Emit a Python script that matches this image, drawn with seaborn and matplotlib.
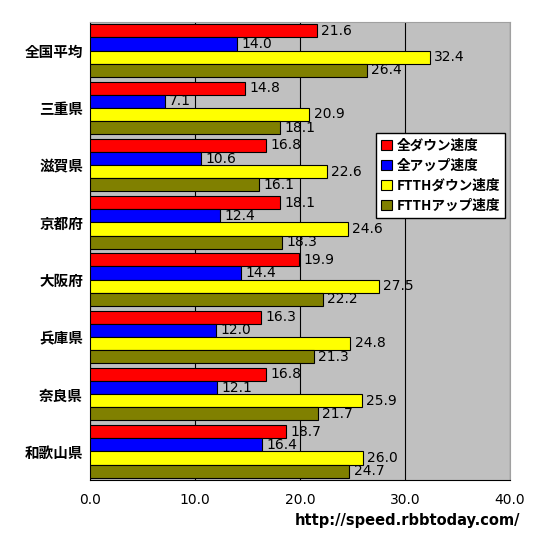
import matplotlib
matplotlib.use("Agg")
import matplotlib.pyplot as plt
import seaborn as sns
import pandas as pd

# --- data ---
prefectures = ["全国平均", "三重県", "滋賀県", "京都府", "大阪府", "兵庫県", "奈良県", "和歌山県"]
series = ["全ダウン速度", "全アップ速度", "FTTHダウン速度", "FTTHアップ速度"]
all_down = [21.6, 14.8, 16.8, 18.1, 19.9, 16.3, 16.8, 18.7]
all_up = [14.0, 7.1, 10.6, 12.4, 14.4, 12.0, 12.1, 16.4]
ftth_down = [32.4, 20.9, 22.6, 24.6, 27.5, 24.8, 25.9, 26.0]
ftth_up = [26.4, 18.1, 16.1, 18.3, 22.2, 21.3, 21.7, 24.7]
colors = ["#FF0000", "#0000FF", "#FFFF00", "#808000"]

rows = []
for name, vals in zip(series, [all_down, all_up, ftth_down, ftth_up]):
    for pref, v in zip(prefectures, vals):
        rows.append({"pref": pref, "series": name, "speed": v})
df = pd.DataFrame(rows)

sns.set_style("white")
plt.rcParams["font.family"] = ["Noto Sans CJK JP", "DejaVu Sans"]
plt.rcParams["text.color"] = "black"
plt.rcParams["xtick.color"] = "black"
plt.rcParams["ytick.color"] = "black"

fig = plt.figure(figsize=(5.5, 5.37), dpi=100)
ax = fig.add_axes([90 / 550, (537 - 480) / 537, 420 / 550, 458 / 537])
ax.set_facecolor("#C0C0C0")

sns.barplot(data=df, y="pref", x="speed", hue="series", order=prefectures,
            hue_order=series, palette=colors, saturation=1, orient="h", width=0.92,
            edgecolor="black", linewidth=0.8, ax=ax, zorder=3)

for cont in ax.containers:
    ax.bar_label(cont, fmt="%.1f", padding=3, fontsize=10, family="DejaVu Sans", color="black")

ax.set_xlim(0, 40)
ax.set_xticks([0, 10, 20, 30, 40])
ax.set_xticklabels(["0.0", "10.0", "20.0", "30.0", "40.0"], fontsize=10, family="DejaVu Sans")
ax.tick_params(axis="y", length=0, labelsize=10.5, pad=5)
ax.tick_params(axis="x", length=3, pad=6)
for lbl in ax.get_yticklabels():
    lbl.set_fontweight("bold")
ax.xaxis.grid(True, color="black", linewidth=0.8, zorder=1)
ax.set_axisbelow(True)
ax.set_xlabel("")
ax.set_ylabel("")
for side in ["top", "right"]:
    ax.spines[side].set_color("#A0A0A0")
for side in ["left", "bottom"]:
    ax.spines[side].set_color("black")

leg = ax.legend(loc="upper left", bbox_to_anchor=(376 / 550, 1 - 133 / 537),
                bbox_transform=fig.transFigure, fontsize=9.8, frameon=True,
                fancybox=False, edgecolor="black", framealpha=1,
                handlelength=0.8, handleheight=0.8, handletextpad=0.3,
                labelspacing=0.45, borderpad=0.4, borderaxespad=0)
for t in leg.get_texts():
    t.set_fontweight("bold")

fig.text(520 / 550, 1 - 520 / 537, "http://speed.rbbtoday.com/", ha="right", va="center",
         fontsize=10.5, fontweight="bold", family="DejaVu Sans", color="black")

fig.savefig("out.png", dpi=100)
